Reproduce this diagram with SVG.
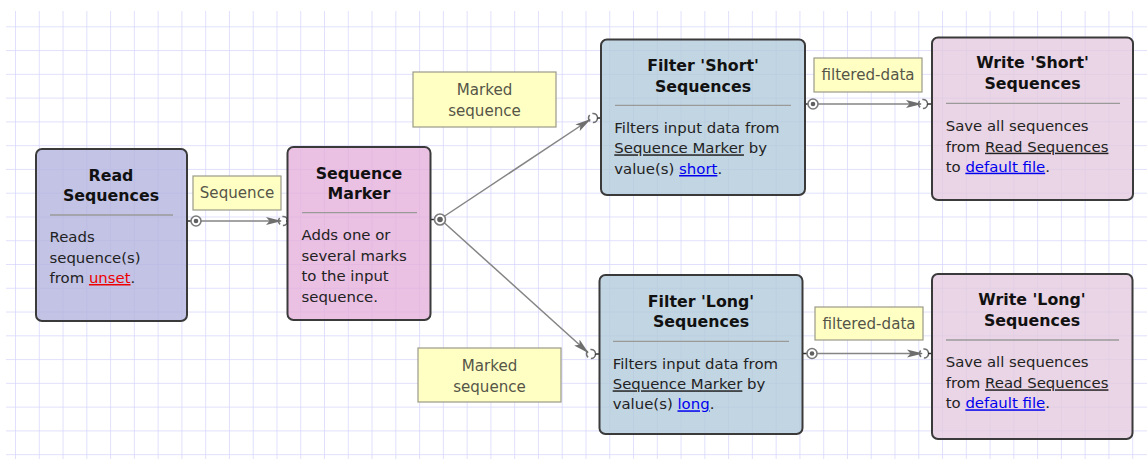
<svg xmlns="http://www.w3.org/2000/svg" width="1147" height="459" viewBox="0 0 1147 459">
<style>
.node{stroke:#3a3a3a;stroke-width:2;fill-opacity:0.8}
.sep{stroke:#9a9a9a;stroke-width:1.3}
.title{font-family:"DejaVu Sans",Verdana,sans-serif;font-weight:bold;font-size:15.8px;fill:#111;text-anchor:middle}
.body{font-family:"DejaVu Sans",Verdana,sans-serif;font-size:14.9px;fill:#222}
.ul{text-decoration:underline}
.blue{fill:#0000ee;text-decoration:underline}
.red{fill:#ee0000;text-decoration:underline}
.lbl{fill:#ffffc4;stroke:#9a9a8a;stroke-width:1.2}
.lbltext{font-family:"DejaVu Sans",Verdana,sans-serif;font-size:15.1px;fill:#555548;text-anchor:middle}
.edge{stroke:#858585;stroke-width:1.5;fill:none}
.stub{stroke:#333;stroke-width:1.5}
.pout{fill:#fff;stroke:#7a7a7a;stroke-width:1.6}
.pdot{fill:#606060}
.pin{fill:none;stroke:#707070;stroke-width:1.6;stroke-dasharray:7 3}
</style>
<defs>
<pattern id="grid" x="-7.77" y="3.53" width="23.77" height="23.77" patternUnits="userSpaceOnUse">
<path d="M23.77 0V23.77M0 23.77H23.77" stroke="#d6d6fc" stroke-width="1.5" fill="none"/>
</pattern>
<marker id="arr" viewBox="0 0 16 9" refX="15" refY="4.5" markerWidth="16" markerHeight="9" markerUnits="userSpaceOnUse" orient="auto">
<path d="M0 0.5L16 4.5L0 8.5L3.5 4.5Z" fill="#6e6e6e"/>
</marker>
</defs>
<rect width="1147" height="459" fill="#fff"/>
<rect x="6" y="11" width="1141" height="448" fill="url(#grid)"/>

<g id="connectors">
<line class="stub" x1="187" y1="221" x2="191" y2="221"/>
<line class="edge" x1="201" y1="221" x2="281" y2="221" marker-end="url(#arr)"/>
<circle class="pin" cx="283" cy="221" r="4.5"/>
<line class="stub" x1="286" y1="221" x2="288" y2="221"/>

<line class="stub" x1="431" y1="219.5" x2="435" y2="219.5"/>
<line class="edge" x1="444" y1="216.5" x2="590" y2="119.5" marker-end="url(#arr)"/>
<line class="edge" x1="444" y1="222.5" x2="588" y2="352.5" marker-end="url(#arr)"/>
<circle class="pin" cx="593" cy="118" r="4.5"/>
<line class="stub" x1="597" y1="118" x2="601" y2="118"/>
<circle class="pin" cx="591" cy="354" r="4.5"/>
<line class="stub" x1="595" y1="354" x2="599" y2="354"/>

<line class="stub" x1="805" y1="104" x2="808" y2="104"/>
<line class="edge" x1="818" y1="104" x2="921" y2="104" marker-end="url(#arr)"/>
<circle class="pin" cx="923" cy="104" r="4.5"/>
<line class="stub" x1="927" y1="104" x2="932" y2="104"/>

<line class="stub" x1="802" y1="353.5" x2="807" y2="353.5"/>
<line class="edge" x1="817" y1="353.5" x2="922" y2="353.5" marker-end="url(#arr)"/>
<circle class="pin" cx="924" cy="353.5" r="4.5"/>
<line class="stub" x1="928" y1="353.5" x2="932" y2="353.5"/>

<circle class="pout" cx="196" cy="221" r="5"/><circle class="pdot" cx="196" cy="221" r="2.3"/>
<circle class="pout" cx="440" cy="219.5" r="5.5"/><circle class="pdot" cx="440" cy="219.5" r="2.8"/>
<circle class="pout" cx="813" cy="104" r="5"/><circle class="pdot" cx="813" cy="104" r="2.3"/>
<circle class="pout" cx="812" cy="353.5" r="5"/><circle class="pdot" cx="812" cy="353.5" r="2.3"/>

<rect class="lbl" x="193" y="176" width="88" height="34"/>
<text class="lbltext" x="237" y="198">Sequence</text>
<rect class="lbl" x="413" y="72" width="143" height="55"/>
<text class="lbltext" x="484.5" y="95">Marked</text>
<text class="lbltext" x="484.5" y="116">sequence</text>
<rect class="lbl" x="418" y="348" width="143" height="54"/>
<text class="lbltext" x="489.5" y="371">Marked</text>
<text class="lbltext" x="489.5" y="392">sequence</text>
<rect class="lbl" x="814" y="58" width="108" height="34"/>
<text class="lbltext" x="868" y="80">filtered-data</text>
<rect class="lbl" x="815" y="307" width="108" height="33"/>
<text class="lbltext" x="869" y="329">filtered-data</text>
</g>

<g id="read">
<rect class="node" x="36" y="149" width="151" height="172" rx="6" fill="#b4b4de"/>
<text class="title" x="111" y="180.5">Read</text>
<text class="title" x="111" y="201">Sequences</text>
<line class="sep" x1="50" y1="215" x2="173" y2="215"/>
<text class="body" x="49.5" y="242">Reads</text>
<text class="body" x="49.5" y="262.5">sequence(s)</text>
<text class="body" x="49.5" y="283">from <tspan class="red">unset</tspan>.</text>
</g>

<g id="marker">
<rect class="node" x="287.5" y="147" width="143" height="173" rx="6" fill="#e5b0dc"/>
<text class="title" x="359" y="179">Sequence</text>
<text class="title" x="359" y="199">Marker</text>
<line class="sep" x1="302" y1="212.7" x2="417" y2="212.7"/>
<text class="body" x="301.5" y="240">Adds one or</text>
<text class="body" x="301.5" y="260.7">several marks</text>
<text class="body" x="301.5" y="281">to the input</text>
<text class="body" x="301.5" y="301.7">sequence.</text>
</g>

<g id="filter-short">
<rect class="node" x="601" y="39.5" width="204" height="155.5" rx="6" fill="#b3cadb"/>
<text class="title" x="703" y="70.7">Filter 'Short'</text>
<text class="title" x="703" y="91.7">Sequences</text>
<line class="sep" x1="615" y1="105.3" x2="791" y2="105.3"/>
<text class="body" x="614.3" y="132.7">Filters input data from</text>
<text class="body" x="614.3" y="153.3"><tspan class="ul">Sequence Marker</tspan> by</text>
<text class="body" x="614.3" y="174">value(s) <tspan class="blue">short</tspan>.</text>
</g>

<g id="write-short">
<rect class="node" x="932" y="37.5" width="201" height="162.5" rx="6" fill="#e4cade"/>
<text class="title" x="1032.5" y="68.3">Write 'Short'</text>
<text class="title" x="1032.5" y="89.3">Sequences</text>
<line class="sep" x1="946" y1="103.3" x2="1120" y2="103.3"/>
<text class="body" x="945.7" y="130.7">Save all sequences</text>
<text class="body" x="945.7" y="151.7">from <tspan class="ul">Read Sequences</tspan></text>
<text class="body" x="945.7" y="171.7">to <tspan class="blue">default file</tspan>.</text>
</g>

<g id="filter-long">
<rect class="node" x="599.5" y="275" width="203" height="159" rx="6" fill="#b3cadb"/>
<text class="title" x="701" y="307.3">Filter 'Long'</text>
<text class="title" x="701" y="327.3">Sequences</text>
<line class="sep" x1="613" y1="341.3" x2="789" y2="341.3"/>
<text class="body" x="612.7" y="368.7">Filters input data from</text>
<text class="body" x="612.7" y="389.3"><tspan class="ul">Sequence Marker</tspan> by</text>
<text class="body" x="612.7" y="409.3">value(s) <tspan class="blue">long</tspan>.</text>
</g>

<g id="write-long">
<rect class="node" x="932" y="274" width="200.5" height="165" rx="6" fill="#e4cade"/>
<text class="title" x="1032" y="305">Write 'Long'</text>
<text class="title" x="1032" y="325.7">Sequences</text>
<line class="sep" x1="946" y1="340" x2="1119" y2="340"/>
<text class="body" x="945.7" y="367.3">Save all sequences</text>
<text class="body" x="945.7" y="388.3">from <tspan class="ul">Read Sequences</tspan></text>
<text class="body" x="945.7" y="408.3">to <tspan class="blue">default file</tspan>.</text>
</g>
</svg>
